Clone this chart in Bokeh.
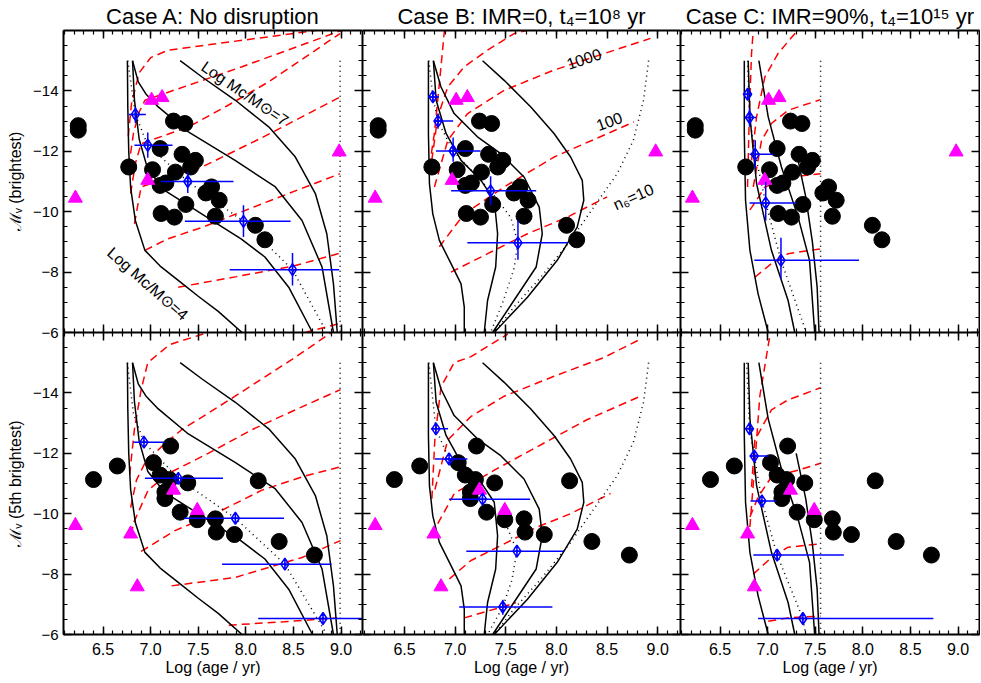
import numpy as np
from bokeh.plotting import figure
from bokeh.models import Range1d, LinearAxis, FixedTicker
from bokeh.layouts import row, column
from bokeh.embed import file_html
from bokeh.resources import INLINE
from bokeh.core.properties import value

FONT = "Liberation Sans"

# ---------------- observed clusters ----------------
# top row: brightest cluster
obs_top_age = [6.24, 6.24, 6.77, 7.24, 7.36, 7.10, 7.33, 7.47, 7.42, 7.02, 7.26, 7.10, 7.16,
               7.58, 7.64, 7.72, 7.37, 7.11, 7.25, 7.68, 8.10, 8.20]
obs_top_mv = [-12.85, -12.70, -11.48, -13.00, -12.92, -12.09, -11.90, -11.70, -11.48, -11.39,
              -11.31, -10.87, -10.95, -10.62, -10.82, -10.38, -10.24, -9.94, -9.82, -9.85,
              -9.55, -9.07]
tri_top_age = [6.21, 7.01, 7.12, 6.97, 8.98]
tri_top_mv = [-10.45, -13.69, -13.78, -11.04, -11.98]
# bottom row: 5th brightest cluster
obs_bot_age = [6.40, 6.65, 7.03, 7.21, 7.10, 7.20, 7.39, 7.15, 7.15, 7.31, 7.49, 7.68, 7.69,
               7.88, 8.13, 8.35, 8.72]
obs_bot_mv = [-11.13, -11.58, -11.69, -12.24, -11.28, -11.13, -11.02, -10.72, -10.50, -10.05,
              -9.80, -9.83, -9.39, -9.31, -11.09, -9.08, -8.63]
tri_bot_age = [6.21, 6.79, 6.86, 7.24, 7.49]
tri_bot_mv = [-9.61, -9.33, -7.58, -10.78, -10.11]

# ---------------- model predictions (diamonds) ----------------
predA_top_age = [6.84, 6.97, 7.39, 7.975, 8.49]
predA_top_mv = [-13.22, -12.20, -11.00, -9.68, -8.08]
predA_top_age_lo = [6.77, 6.83, 7.11, 7.36, 7.83]
predA_top_age_hi = [6.95, 7.23, 7.87, 8.47, 8.98]
predA_top_mv_lo = [-13.47, -12.62, -11.31, -10.21, -8.63]
predA_top_mv_hi = [-12.94, -11.79, -10.62, -9.16, -7.56]

predB_top_age = [6.78, 6.83, 6.98, 7.35, 7.62]
predB_top_mv = [-13.80, -13.00, -12.01, -10.69, -8.97]
predB_top_age_lo = [6.74, 6.79, 6.81, 6.96, 7.12]
predB_top_age_hi = [6.84, 6.98, 7.25, 7.80, 8.11]
predB_top_mv_lo = [-13.96, -13.25, -12.46, -11.17, -9.71]
predB_top_mv_hi = [-13.63, -12.75, -11.65, -10.21, -8.41]

predC_top_age = [6.79, 6.81, 6.87, 6.98, 7.14]
predC_top_mv = [-13.89, -13.12, -11.90, -10.29, -8.39]
predC_top_age_lo = [6.74, 6.76, 6.81, 6.81, 6.86]
predC_top_age_hi = [6.83, 6.88, 7.06, 7.30, 7.96]
predC_top_mv_lo = [-14.07, -13.42, -12.37, -10.98, -9.14]
predC_top_mv_hi = [-13.70, -12.81, -11.43, -9.71, -7.78]

predA_bot_age = [6.93, 7.29, 7.89, 8.41, 8.81]
predA_bot_mv = [-12.37, -11.17, -9.85, -8.33, -6.53]
predA_bot_age_lo = [6.82, 6.94, 7.35, 7.75, 8.13]
predA_bot_age_hi = [7.15, 7.76, 8.40, 8.90, 9.30]
predA_bot_mv_lo = [-12.42, -11.22, -9.90, -8.38, -6.58]
predA_bot_mv_hi = [-12.32, -11.12, -9.80, -8.28, -6.48]

predB_bot_age = [6.81, 6.94, 7.27, 7.61, 7.47]
predB_bot_mv = [-12.81, -11.81, -10.48, -8.76, -6.91]
predB_bot_age_lo = [6.76, 6.80, 6.94, 7.11, 7.04]
predB_bot_age_hi = [6.93, 7.12, 7.74, 8.07, 7.96]
predB_bot_mv_lo = [-12.86, -11.86, -10.53, -8.81, -7.15]
predB_bot_mv_hi = [-12.76, -11.76, -10.43, -8.71, -6.65]

predC_bot_age = [6.81, 6.86, 6.94, 7.10, 7.37]
predC_bot_mv = [-12.81, -11.91, -10.42, -8.63, -6.53]
predC_bot_age_lo = [6.77, 6.81, 6.82, 6.85, 6.90]
predC_bot_age_hi = [6.85, 7.01, 7.09, 7.80, 8.74]
predC_bot_mv_lo = [-12.86, -11.96, -10.47, -8.80, -6.58]
predC_bot_mv_hi = [-12.76, -11.86, -10.37, -8.46, -6.48]

# ---------------- model curves: case A (cluster-mass tracks) ----------------
A_m4_age = [6.756, 6.76, 6.77, 6.79, 6.84, 6.94, 7.10, 7.30, 7.50, 7.71, 7.96]
A_m4_mv = [-15.0, -13.5, -12.0, -10.8, -9.7, -8.72, -8.2, -7.7, -7.2, -6.7, -6.0]
A_m5_age = [6.81, 6.83, 6.88, 6.97, 7.15, 7.40, 7.70, 7.95, 8.20, 8.45, 8.70]
A_m5_mv = [-15.0, -13.7, -12.4, -11.4, -10.7, -10.2, -9.6, -9.1, -8.5, -7.5, -6.0]
A_m6_age = [6.81, 6.87, 6.95, 7.08, 7.396, 7.887, 8.31, 8.59, 8.80, 8.92]
A_m6_mv = [-15.0, -14.3, -13.9, -13.47, -12.64, -11.70, -10.82, -9.71, -8.17, -6.0]
A_m7_age = [7.31, 7.54, 7.89, 8.24, 8.52, 8.73, 8.85, 8.92, 8.96]
A_m7_mv = [-15.0, -14.46, -13.69, -12.81, -11.81, -10.6, -9.27, -7.61, -6.0]
A_tmax_age = [8.99, 8.99]
A_tmax_mv = [-15.0, -6.0]
A_med_top_age = [6.76, 6.84, 6.97, 7.39, 7.975, 8.49, 8.85]
A_med_top_mv = [-15.0, -13.22, -12.2, -11.0, -9.68, -8.08, -6.0]
A_med_bot_age = [6.756, 6.82, 6.93, 7.29, 7.89, 8.41, 8.85]
A_med_bot_mv = [-15.0, -13.3, -12.37, -11.17, -9.85, -8.33, -6.0]
# constant-number (dashed) lines, top row
A_top_iso0_age = [8.62, 8.99]
A_top_iso0_mv = [-6.0, -6.3]
A_top_iso1_age = [7.29, 7.9, 8.5, 8.98]
A_top_iso1_mv = [-7.50, -7.85, -8.2, -8.62]
A_top_iso2_age = [6.94, 7.18, 7.54, 8.2, 8.99]
A_top_iso2_mv = [-8.72, -9.1, -9.48, -10.3, -11.26]
A_top_iso3_age = [6.83, 6.87, 6.90, 7.2, 7.54, 8.2, 8.99]
A_top_iso3_mv = [-9.6, -10.3, -10.82, -11.15, -11.48, -12.5, -13.8]
A_top_iso4_age = [6.79, 6.84, 6.90, 7.40, 7.8, 8.24, 8.99]
A_top_iso4_mv = [-10.6, -11.6, -12.25, -12.81, -13.5, -14.3, -15.9]
A_top_iso5_age = [6.77, 6.82, 6.88, 6.94, 7.96, 8.77, 9.0]
A_top_iso5_mv = [-11.5, -12.6, -13.3, -13.69, -14.8, -15.73, -16.0]
A_top_iso6_age = [6.765, 6.80, 6.88, 7.0, 7.185, 8.9]
A_top_iso6_mv = [-12.5, -13.6, -14.6, -15.1, -15.35, -16.07]
# dashed lines, bottom row
A_bot_iso0_age = [7.82, 8.4, 8.96]
A_bot_iso0_mv = [-6.31, -6.42, -6.55]
A_bot_iso1_age = [7.22, 7.887, 8.59, 8.994]
A_bot_iso1_mv = [-7.61, -7.89, -8.55, -9.11]
A_bot_iso2_age = [6.90, 7.255, 7.677, 8.169, 8.59, 8.994]
A_bot_iso2_mv = [-8.75, -9.44, -10.0, -10.78, -11.22, -11.55]
A_bot_iso3_age = [6.80, 6.817, 6.974, 7.185, 7.606, 8.063, 8.52, 8.994]
A_bot_iso3_mv = [-9.3, -9.67, -10.78, -11.33, -12.0, -12.78, -13.44, -14.11]
A_bot_iso4_age = [6.79, 6.851, 6.939, 7.115, 7.325, 7.606, 7.887, 8.485, 8.9]
A_bot_iso4_mv = [-10.2, -11.11, -11.67, -12.22, -12.78, -13.33, -13.89, -15.11, -16.0]
A_bot_iso5_age = [6.78, 6.83, 6.90, 6.97, 7.2, 7.6]
A_bot_iso5_mv = [-11.3, -12.8, -14.1, -15.0, -15.6, -16.0]

# ---------------- model curves: case B ----------------
B_m4_age = [6.736, 6.736, 6.746, 6.779, 6.844, 6.959, 7.058, 7.09, 7.09]
B_m4_mv = [-15.0, -12.59, -10.93, -9.93, -9.05, -8.28, -7.61, -6.84, -6.0]
B_m5_age = [6.785, 6.812, 6.91, 7.058, 7.255, 7.386, 7.419, 7.40, 7.32, 7.287]
B_m5_mv = [-15.0, -13.69, -12.59, -11.70, -11.04, -10.38, -9.27, -8.17, -7.06, -6.0]
B_m6_age = [6.785, 6.86, 6.99, 7.22, 7.45, 7.68, 7.83, 7.86, 7.80, 7.58, 7.37]
B_m6_mv = [-15.0, -14.13, -13.25, -12.48, -11.92, -11.15, -10.15, -9.27, -8.17, -7.06, -6.0]
B_m7_age = [7.271, 7.484, 7.747, 7.976, 8.14, 8.255, 8.27, 8.205, 8.008, 7.714, 7.386]
B_m7_mv = [-15.0, -14.35, -13.47, -12.59, -11.81, -11.04, -10.38, -9.49, -8.39, -7.17, -6.0]
B_tmax_age = [8.91, 8.86, 8.76, 8.60, 8.37, 8.14, 7.845, 7.58, 7.386]
B_tmax_mv = [-15.0, -13.69, -12.37, -11.26, -10.16, -9.05, -7.83, -6.84, -6.0]
B_med_top_age = [6.74, 6.78, 6.83, 6.98, 7.35, 7.55, 7.62, 7.58, 7.47, 7.35]
B_med_top_mv = [-15.0, -13.8, -13.0, -12.01, -10.69, -9.8, -8.97, -8.1, -7.0, -6.0]
B_med_bot_age = [6.74, 6.81, 6.94, 7.27, 7.52, 7.61, 7.56, 7.47, 7.32]
B_med_bot_mv = [-15.0, -12.81, -11.81, -10.48, -9.5, -8.76, -7.8, -6.91, -6.0]
B_top_iso1_age = [6.959, 7.32, 7.714, 8.108, 8.50]
B_top_iso1_mv = [-8.0, -8.61, -9.27, -9.82, -10.49]
B_top_iso2_age = [6.844, 7.09, 7.484, 7.976, 8.764]
B_top_iso2_mv = [-8.84, -9.93, -10.82, -11.81, -12.97]
B_top_iso3_age = [6.795, 6.927, 7.123, 7.484, 7.976, 8.928]
B_top_iso3_mv = [-10.82, -12.36, -13.25, -14.02, -14.69, -15.74]
B_top_iso4_age = [6.769, 6.828, 6.927, 7.09, 7.32, 7.583, 7.7]
B_top_iso4_mv = [-11.7, -13.14, -14.13, -14.8, -15.35, -15.9, -16.0]
B_top_iso5_age = [6.745, 6.795, 6.844, 6.894]
B_top_iso5_mv = [-11.5, -12.59, -14.24, -16.0]
B_bot_iso0_age = [7.09, 7.45, 7.6]
B_bot_iso0_mv = [-6.55, -6.9, -7.05]
B_bot_iso1_age = [6.943, 7.156, 7.484, 7.812, 8.14, 8.534]
B_bot_iso1_mv = [-7.84, -8.45, -9.0, -9.56, -10.0, -10.67]
B_bot_iso2_age = [6.828, 6.992, 7.386, 7.812, 8.30, 8.83]
B_bot_iso2_mv = [-9.67, -10.67, -11.44, -12.22, -13.11, -13.89]
B_bot_iso3_age = [6.80, 6.927, 7.156, 7.484, 7.976, 8.468, 8.829]
B_bot_iso3_mv = [-10.8, -12.44, -13.22, -13.89, -14.55, -15.17, -15.78]
B_bot_iso4_age = [6.77, 6.80, 6.86, 6.99, 7.156, 7.52]
B_bot_iso4_mv = [-10.5, -12.5, -14.2, -15.0, -15.2, -15.95]

# ---------------- model curves: case C ----------------
C_m4_age = [6.755, 6.755, 6.768, 6.814, 6.90, 7.006]
C_m4_mv = [-15.0, -12.59, -10.38, -8.72, -7.28, -6.0]
C_m5_age = [6.796, 6.814, 6.884, 7.04, 7.215, 7.285]
C_m5_mv = [-15.0, -13.14, -10.93, -8.72, -7.06, -6.0]
C_m6_age = [6.908, 7.006, 7.145, 7.32, 7.44, 7.494]
C_m6_mv = [-15.0, -13.14, -11.48, -9.82, -8.39, -6.0]
C_m7_age = [7.30, 7.40, 7.47, 7.52, 7.54]
C_m7_mv = [-12.0, -10.5, -9.0, -7.5, -6.0]
C_tmax_age = [7.556, 7.556]
C_tmax_mv = [-15.0, -6.0]
C_med_top_age = [6.79, 6.81, 6.87, 6.98, 7.14, 7.406]
C_med_top_mv = [-15.0, -13.12, -11.9, -10.29, -8.39, -6.0]
C_med_bot_age = [6.78, 6.81, 6.86, 6.94, 7.10, 7.37, 7.40]
C_med_bot_mv = [-15.0, -12.81, -11.91, -10.42, -8.63, -6.53, -6.0]
C_top_iso1_age = [6.789, 6.807, 6.831, 6.849]
C_top_iso1_mv = [-10.82, -13.14, -15.24, -16.0]
C_top_iso2_age = [6.831, 6.884, 6.971, 7.11, 7.302]
C_top_iso2_mv = [-11.7, -13.14, -14.46, -15.24, -15.96]
C_top_iso3_age = [6.849, 6.936, 7.04, 7.215, 7.556]
C_top_iso3_mv = [-10.82, -12.36, -12.92, -13.36, -13.71]
C_top_iso4_age = [6.814, 6.884, 6.971, 7.25, 7.556]
C_top_iso4_mv = [-10.06, -10.38, -10.82, -11.15, -11.26]
C_top_iso5_age = [6.866, 7.04, 7.215, 7.556]
C_top_iso5_mv = [-7.83, -8.28, -8.61, -8.77]
C_bot_iso1_age = [6.814, 6.866, 6.918, 7.023]
C_bot_iso1_mv = [-9.56, -11.67, -13.89, -15.89]
C_bot_iso2_age = [6.831, 6.866, 7.04, 7.215, 7.556]
C_bot_iso2_mv = [-10.89, -12.44, -13.44, -13.77, -14.17]
C_bot_iso3_age = [6.814, 6.90, 7.04, 7.32, 7.556]
C_bot_iso3_mv = [-9.89, -10.55, -11.22, -11.44, -11.67]
C_bot_iso4_age = [6.849, 7.04, 7.215, 7.556]
C_bot_iso4_mv = [-8.0, -8.55, -8.89, -9.0]
C_bot_iso5_age = [7.006, 7.215, 7.556]
C_bot_iso5_mv = [-6.44, -6.55, -6.61]

TITLES = ["Case A: No disruption", "Case B: IMR=0, t\u2084=10\u2078 yr",
          "Case C: IMR=90%, t\u2084=10\u00b9\u2075 yr"]
YLABELS = ["\u2133\u1d65 (brightest)", "\u2133\u1d65 (5th brightest)"]
XLABEL = "Log (age / yr)"
XTICKS = [6.5, 7.0, 7.5, 8.0, 8.5, 9.0]
YTICKS = [-14, -12, -10, -8, -6]

SOLID = {
    "A": [(A_m4_age, A_m4_mv), (A_m5_age, A_m5_mv), (A_m6_age, A_m6_mv), (A_m7_age, A_m7_mv)],
    "B": [(B_m4_age, B_m4_mv), (B_m5_age, B_m5_mv), (B_m6_age, B_m6_mv), (B_m7_age, B_m7_mv)],
    "C": [(C_m4_age, C_m4_mv), (C_m5_age, C_m5_mv), (C_m6_age, C_m6_mv), (C_m7_age, C_m7_mv)],
}
DOTTED = {
    ("A", 0): [(A_med_top_age, A_med_top_mv), (A_tmax_age, A_tmax_mv)],
    ("A", 1): [(A_med_bot_age, A_med_bot_mv), (A_tmax_age, A_tmax_mv)],
    ("B", 0): [(B_med_top_age, B_med_top_mv), (B_tmax_age, B_tmax_mv)],
    ("B", 1): [(B_med_bot_age, B_med_bot_mv), (B_tmax_age, B_tmax_mv)],
    ("C", 0): [(C_med_top_age, C_med_top_mv), (C_tmax_age, C_tmax_mv)],
    ("C", 1): [(C_med_bot_age, C_med_bot_mv), (C_tmax_age, C_tmax_mv)],
}
DASHED = {
    ("A", 0): [(A_top_iso0_age, A_top_iso0_mv), (A_top_iso1_age, A_top_iso1_mv), (A_top_iso2_age, A_top_iso2_mv),
               (A_top_iso3_age, A_top_iso3_mv), (A_top_iso4_age, A_top_iso4_mv), (A_top_iso5_age, A_top_iso5_mv),
               (A_top_iso6_age, A_top_iso6_mv)],
    ("A", 1): [(A_bot_iso0_age, A_bot_iso0_mv), (A_bot_iso1_age, A_bot_iso1_mv), (A_bot_iso2_age, A_bot_iso2_mv),
               (A_bot_iso3_age, A_bot_iso3_mv), (A_bot_iso4_age, A_bot_iso4_mv), (A_bot_iso5_age, A_bot_iso5_mv)],
    ("B", 0): [(B_top_iso1_age, B_top_iso1_mv), (B_top_iso2_age, B_top_iso2_mv), (B_top_iso3_age, B_top_iso3_mv),
               (B_top_iso4_age, B_top_iso4_mv), (B_top_iso5_age, B_top_iso5_mv)],
    ("B", 1): [(B_bot_iso0_age, B_bot_iso0_mv), (B_bot_iso1_age, B_bot_iso1_mv), (B_bot_iso2_age, B_bot_iso2_mv),
               (B_bot_iso3_age, B_bot_iso3_mv), (B_bot_iso4_age, B_bot_iso4_mv)],
    ("C", 0): [(C_top_iso1_age, C_top_iso1_mv), (C_top_iso2_age, C_top_iso2_mv), (C_top_iso3_age, C_top_iso3_mv),
               (C_top_iso4_age, C_top_iso4_mv), (C_top_iso5_age, C_top_iso5_mv)],
    ("C", 1): [(C_bot_iso1_age, C_bot_iso1_mv), (C_bot_iso2_age, C_bot_iso2_mv), (C_bot_iso3_age, C_bot_iso3_mv),
               (C_bot_iso4_age, C_bot_iso4_mv), (C_bot_iso5_age, C_bot_iso5_mv)],
}
PRED = {
    ("A", 0): (predA_top_age, predA_top_mv, predA_top_age_lo, predA_top_age_hi, predA_top_mv_lo, predA_top_mv_hi),
    ("B", 0): (predB_top_age, predB_top_mv, predB_top_age_lo, predB_top_age_hi, predB_top_mv_lo, predB_top_mv_hi),
    ("C", 0): (predC_top_age, predC_top_mv, predC_top_age_lo, predC_top_age_hi, predC_top_mv_lo, predC_top_mv_hi),
    ("A", 1): (predA_bot_age, predA_bot_mv, predA_bot_age_lo, predA_bot_age_hi, predA_bot_mv_lo, predA_bot_mv_hi),
    ("B", 1): (predB_bot_age, predB_bot_mv, predB_bot_age_lo, predB_bot_age_hi, predB_bot_mv_lo, predB_bot_mv_hi),
    ("C", 1): (predC_bot_age, predC_bot_mv, predC_bot_age_lo, predC_bot_age_hi, predC_bot_mv_lo, predC_bot_mv_hi),
}

# geometry: the root layout is pulled over the page margin (it lands 8px up-left of the
# page origin), so the outer borders are widened by the same amount
PAGE_MARGIN = 8
SHIFT = 8
FRAME_W = [299, 318, 299]
FRAME_H = 302
LEFT = 63 + SHIFT
TOP = 30 + SHIFT
BOTTOM = 47
OVERLAP = 9


def style_axis(ax, dim, show_labels):
    if dim == "x":
        ax.ticker = FixedTicker(ticks=XTICKS, minor_ticks=[round(6.1 + 0.1 * i, 2) for i in range(32)])
        ax.major_label_overrides = {t: "%.1f" % t for t in XTICKS}
    else:
        ax.ticker = FixedTicker(ticks=YTICKS, minor_ticks=[-16 + 0.5 * i for i in range(21)])
        ax.major_label_overrides = {t: "\u2212%d" % (-t) for t in YTICKS}
    ax.major_tick_in = 8
    ax.major_tick_out = 0
    ax.minor_tick_in = 4
    ax.minor_tick_out = 0
    ax.axis_line_width = 2
    ax.axis_line_color = "black"
    ax.major_tick_line_width = 1.5
    ax.minor_tick_line_width = 1.2
    ax.major_tick_line_color = "black"
    ax.minor_tick_line_color = "black"
    ax.major_label_text_font = FONT
    ax.axis_label_text_font = FONT
    ax.axis_label_text_font_style = "normal"
    ax.axis_label_text_color = "black"
    if show_labels:
        ax.major_label_text_color = "black"
        ax.axis_label_text_font_size = "16px"
        if dim == "x":
            ax.major_label_text_font_size = "16px"
            ax.major_label_standoff = 8
            ax.axis_label_standoff = 1
        else:
            ax.major_label_text_font_size = "15px"
            ax.major_label_standoff = 5
            ax.axis_label_standoff = 6
    else:
        ax.major_label_text_color = None
        ax.major_label_text_alpha = 0
        ax.major_label_text_font_size = "0px"
        ax.major_label_standoff = 0
        ax.axis_label = None


def make_panel(r, c):
    case = "ABC"[c]
    p = figure(frame_width=FRAME_W[c], frame_height=FRAME_H,
               x_range=Range1d(6.085, 9.225), y_range=Range1d(-6, -16),
               output_backend="svg", toolbar_location=None,
               x_axis_location="below", y_axis_location="left",
               min_border=0,
               min_border_left=LEFT if c == 0 else 0,
               min_border_right=1 if c == 2 else 0,
               min_border_top=TOP if r == 0 else 0,
               min_border_bottom=BOTTOM if r == 1 else OVERLAP)
    p.background_fill_color = "white"
    p.border_fill_color = "white" if r == 0 else None
    p.outline_line_color = None
    p.xgrid.visible = False
    p.ygrid.visible = False

    if r == 0:
        p.title.text = TITLES[c]
        p.title.align = "center"
        p.title.text_font = FONT
        p.title.text_font_size = "22px"
        p.title.text_font_style = "normal"
        p.title.text_color = "black"
        p.title.standoff = 3

    xb = p.xaxis[0]
    yl = p.yaxis[0]
    style_axis(xb, "x", r == 1)
    style_axis(yl, "y", c == 0)
    if r == 1:
        xb.axis_label = XLABEL
    if c == 0:
        yl.axis_label = YLABELS[r]
    xa = LinearAxis()
    style_axis(xa, "x", False)
    p.add_layout(xa, "above")
    yr = LinearAxis()
    style_axis(yr, "y", False)
    p.add_layout(yr, "right")

    for ax_, ay_ in DASHED[(case, r)]:
        p.line(ax_, ay_, line_color="#ff0000", line_width=1.5, line_dash="8 5")
    for ax_, ay_ in SOLID[case]:
        p.line(ax_, ay_, line_color="black", line_width=1.5)
    for ax_, ay_ in DOTTED[(case, r)]:
        p.line(ax_, ay_, line_color="black", line_width=1.5, line_dash="1 4")

    if r == 0:
        oa, om, ta, tm = obs_top_age, obs_top_mv, tri_top_age, tri_top_mv
    else:
        oa, om, ta, tm = obs_bot_age, obs_bot_mv, tri_bot_age, tri_bot_mv
    p.scatter(oa, om, marker="circle", size=16, fill_color="black", line_color="black")
    p.scatter(ta, tm, marker="triangle", size=14, fill_color="#ff00ff", line_color="#ff00ff")

    pa, pm, alo, ahi, mlo, mhi = PRED[(case, r)]
    p.segment(x0=alo, y0=pm, x1=ahi, y1=pm, line_color="#0000ff", line_width=1.5)
    p.segment(x0=pa, y0=mlo, x1=pa, y1=mhi, line_color="#0000ff", line_width=1.5)
    p.scatter(pa, pm, marker="diamond_cross", size=12, fill_color=None, line_color="#0000ff", line_width=1.5)

    if r == 0 and case == "A":
        p.text(x=[7.99], y=[-13.91], text=["Log Mc/M\u2299=7"], angle=-0.6,
               text_font=value(FONT), text_font_size="16px", text_align="center",
               text_baseline="middle", text_color="black")
        p.text(x=[6.97], y=[-7.61], text=["Log Mc/M\u2299=4"], angle=-0.72,
               text_font=value(FONT), text_font_size="16px", text_align="center",
               text_baseline="middle", text_color="black")
    if r == 0 and case == "B":
        p.text(x=[8.27, 8.52, 8.76], y=[-15.07, -13.0, -10.49], text=["1000", "100", "n\u2086=10"],
               angle=[0.33, 0.35, 0.42],
               text_font=value(FONT), text_font_size="16px", text_align="center",
               text_baseline="middle", text_color="black")
    return p


top = row(*[make_panel(0, c) for c in range(3)], spacing=0)
bottom = row(*[make_panel(1, c) for c in range(3)], spacing=0)
bottom.margin = (-OVERLAP, 0, 0, 0)
layout = column(top, bottom, spacing=0)
layout.margin = (-PAGE_MARGIN, -PAGE_MARGIN, -PAGE_MARGIN, -PAGE_MARGIN)

open("out.html", "w").write(file_html(layout, INLINE))
